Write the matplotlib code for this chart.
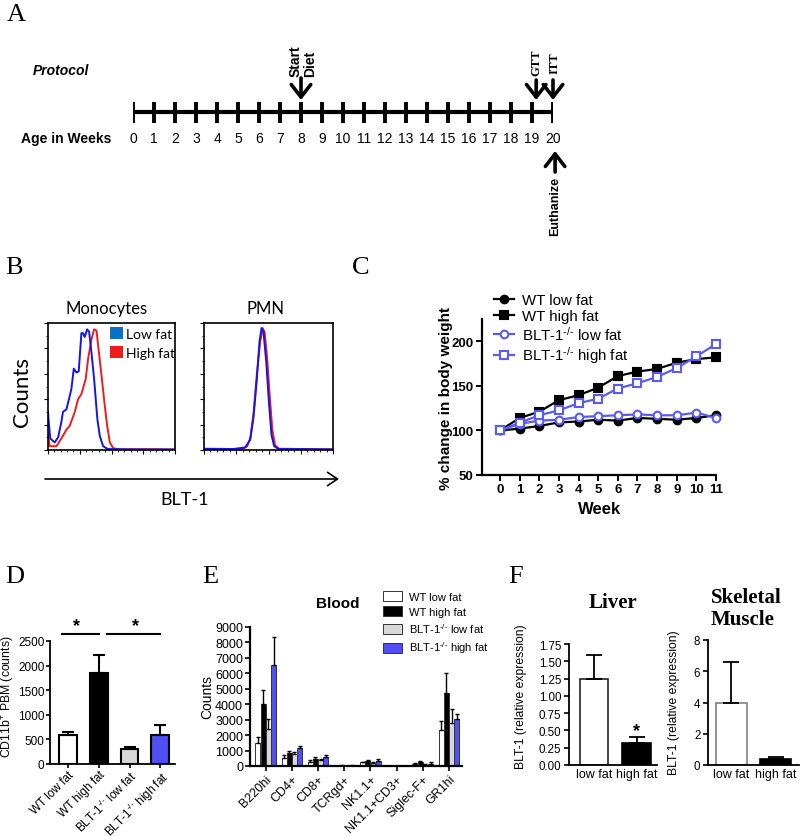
import matplotlib
matplotlib.use('Agg')
import matplotlib.pyplot as plt
from matplotlib.patches import Patch
from matplotlib.lines import Line2D
from matplotlib.ticker import FormatStrFormatter

SANS = 'Liberation Sans'
SERIF = 'Liberation Serif'
CAL = 'Lato'
plt.rcParams['font.family'] = [SANS, 'DejaVu Sans']
plt.rcParams['axes.linewidth'] = 1.3
plt.rcParams['mathtext.fontset'] = 'custom'
plt.rcParams['mathtext.rm'] = SANS
plt.rcParams['mathtext.it'] = SANS + ':italic'
plt.rcParams['mathtext.bf'] = SANS + ':bold'

KO = r'$^{\text{-/-}}$'

# ---------------- data ----------------
# Panel A: protocol timeline
weeks = list(range(21))
start_diet_week = 8
gtt_week = 19
itt_week = 20
euthanize_week = 20

# Panel B: flow histograms (x = fraction of BLT-1 axis, y = fraction of max counts)
mono_low_x = [0.000, 0.006, 0.018, 0.053, 0.080, 0.105, 0.118, 0.145, 0.165, 0.184, 0.203, 0.224, 0.242,
              0.263, 0.276, 0.289, 0.308, 0.324, 0.342, 0.363, 0.389, 0.408, 0.434, 0.470, 0.600, 1.000]
mono_low_y = [0.30, 0.22, 0.09, 0.06, 0.10, 0.22, 0.30, 0.32, 0.40, 0.48, 0.64, 0.61, 0.62,
              0.92, 0.92, 0.89, 0.95, 0.93, 0.77, 0.56, 0.24, 0.11, 0.03, 0.008, 0.005, 0.004]
mono_high_x = [0.000, 0.013, 0.066, 0.105, 0.145, 0.171, 0.211, 0.237, 0.263, 0.297, 0.316, 0.342,
               0.363, 0.382, 0.403, 0.421, 0.447, 0.466, 0.487, 0.513, 0.550, 0.840, 1.000]
mono_high_y = [0.13, 0.03, 0.03, 0.09, 0.16, 0.19, 0.30, 0.40, 0.44, 0.56, 0.72, 0.87,
               0.95, 0.94, 0.75, 0.59, 0.35, 0.19, 0.06, 0.015, 0.006, 0.006, 0.004]
pmn_low_x = [0.000, 0.228, 0.319, 0.358, 0.383, 0.409, 0.430, 0.446, 0.461, 0.482, 0.503, 0.523, 0.544, 0.578, 1.000]
pmn_low_y = [0.010, 0.008, 0.020, 0.080, 0.250, 0.550, 0.850, 0.960, 0.930, 0.700, 0.380, 0.120, 0.030, 0.008, 0.005]
pmn_high_x = [0.000, 0.300, 0.335, 0.360, 0.385, 0.410, 0.435, 0.455, 0.470, 0.490, 0.510, 0.530, 0.550, 0.580, 1.000]
pmn_high_y = [0.005, 0.008, 0.030, 0.100, 0.300, 0.600, 0.850, 0.960, 0.930, 0.720, 0.420, 0.160, 0.040, 0.010, 0.005]

# Panel C: body weight
c_weeks = list(range(12))
wt_low = [100, 102, 105, 109, 110, 112, 111, 114, 113, 112, 114, 117]
wt_low_err = [0, 1.5, 2, 2, 2, 2, 2, 2, 2, 2, 2, 2.5]
wt_high = [100, 114, 121, 134, 139.5, 148, 161, 166, 169, 176, 180, 182]
wt_high_err = [0, 2, 3, 3, 3, 3, 4, 4, 4, 4, 4, 4]
blt_low = [100, 107.5, 111, 112, 115, 116, 117, 118, 117, 117, 120, 114]
blt_low_err = [0, 2, 2, 2, 2, 2, 2, 2, 2, 2, 2, 2]
blt_high = [100, 108.6, 117, 122.6, 130.5, 135.7, 147, 153, 160, 170, 183, 197]
blt_high_err = [0, 2, 2, 3, 3, 3, 3, 3, 3, 3, 3, 4]

# Panel D
d_groups = ['WT low fat', 'WT high fat', 'BLT-1' + KO + ' low fat', 'BLT-1' + KO + ' high fat']
d_vals = [595, 1845, 304, 595]
d_err = [60, 371, 47, 202]

# Panel E
e_cats = ['B220hi', 'CD4+', 'CD8+', 'TCRgd+', 'NK1.1+', 'NK1.1+CD3+', 'Siglec-F+', 'GR1hi']
e_series = ['WT low fat', 'WT high fat', 'BLT-1' + KO + ' low fat', 'BLT-1' + KO + ' high fat']
e_wt_low = [1470, 540, 280, 20, 240, 10, 150, 2310]
e_wt_low_err = [430, 150, 110, 5, 40, 3, 30, 580]
e_wt_high = [4040, 820, 475, 30, 345, 15, 260, 4700]
e_wt_high_err = [880, 150, 105, 8, 65, 4, 65, 1320]
e_blt_low = [2370, 755, 390, 20, 215, 10, 90, 2760]
e_blt_low_err = [695, 175, 85, 5, 30, 3, 25, 910]
e_blt_high = [6540, 1190, 600, 30, 325, 15, 150, 3020]
e_blt_high_err = [1835, 105, 110, 8, 130, 4, 90, 330]

# Panel F
f_groups = ['low fat', 'high fat']
liver_vals = [1.247, 0.325]
liver_err = [0.34, 0.083]
muscle_vals = [4.0, 0.36]
muscle_err = [2.57, 0.15]

# ---------------- layout helpers ----------------
W, H = 800, 837
fig = plt.figure(figsize=(W / 100, H / 100), dpi=100)


def px_axes(l, t, r, b):
    return fig.add_axes([l / W, 1 - b / H, (r - l) / W, (b - t) / H])


ov = fig.add_axes([0, 0, 1, 1])
ov.set_xlim(0, W)
ov.set_ylim(H, 0)
ov.axis('off')

# panel letters
for lab, x, y in [('A', 7, 21), ('B', 5, 274), ('C', 352, 274), ('D', 5, 583), ('E', 202, 583), ('F', 508, 583)]:
    ov.text(x, y, lab, fontsize=19, family=SERIF, ha='left', va='baseline')

BLACK = 'black'
BLUE_C = '#5b5bef'
BLUE_BAR = '#4f4ff2'
GRAY_BAR = '#d8d8d8'

# ---------------- Panel A ----------------
axA = px_axes(133, 0, 553, 240)
axA.set_xlim(0, 20)
axA.set_ylim(240, 0)
axA.axis('off')
axA.plot([weeks[0], weeks[-1]], [113, 113], color=BLACK, lw=3, solid_capstyle='butt')
axA.vlines(weeks, 103, 124, color=BLACK, lw=2.8)
for w in weeks:
    axA.text(w, 139, str(w), ha='center', va='center', fontsize=10)
ov.text(21, 139, 'Age in Weeks', ha='left', va='center', fontsize=10, fontweight='bold')
ov.text(33, 71, 'Protocol', ha='left', va='center', fontsize=10, fontweight='bold', style='italic')

arr = dict(arrowstyle='->,head_length=0.45,head_width=0.35', lw=2.6, color=BLACK,
           mutation_scale=20, shrinkA=0, shrinkB=0)
axA.annotate('', xy=(start_diet_week, 101), xytext=(start_diet_week, 79), arrowprops=arr,
             annotation_clip=False)
axA.text(start_diet_week + 0.1, 77, 'Start\nDiet', rotation=90, ha='center', va='bottom',
         fontsize=10, fontweight='bold', multialignment='left', linespacing=1.05)
axA.annotate('', xy=(gtt_week + 0.2, 101), xytext=(gtt_week + 0.2, 81), arrowprops=arr,
             annotation_clip=False)
axA.annotate('', xy=(itt_week, 101), xytext=(itt_week, 81), arrowprops=arr, annotation_clip=False)
axA.text(gtt_week + 0.2, 76, 'GTT', rotation=90, ha='center', va='bottom', fontsize=9,
         family=SERIF, fontweight='bold')
axA.text(itt_week + 0.05, 74, 'ITT', rotation=90, ha='center', va='bottom', fontsize=9,
         family=SERIF, fontweight='bold')
axA.annotate('', xy=(euthanize_week + 0.1, 152), xytext=(euthanize_week + 0.1, 173), arrowprops=arr,
             annotation_clip=False)
axA.text(euthanize_week + 0.12, 177, 'Euthanize', rotation=90, ha='center', va='top', fontsize=9,
         fontweight='bold')

# ---------------- Panel B ----------------
def hist_axes(ax):
    ax.set_xlim(0, 1)
    ax.set_ylim(0, 1.0)
    ax.set_xticks([0, 0.25, 0.5, 0.75, 1.0])
    ax.set_xticks([i / 20 for i in range(21)], minor=True)
    ax.set_yticks([0, 0.2, 0.4, 0.6, 0.8, 1.0])
    ax.set_yticks([i / 10 for i in range(11)], minor=True)
    ax.tick_params(labelbottom=False, labelleft=False, length=3, width=0.8, direction='out')
    ax.tick_params(which='minor', length=1.5, width=0.6)
    for s in ax.spines.values():
        s.set_linewidth(1.2)


LOWB = '#1515e6'
HIGHR = '#ee1c1c'
axM = px_axes(48, 324, 175, 451)
hist_axes(axM)
axM.plot(mono_high_x, mono_high_y, color=HIGHR, lw=1.4)
axM.plot(mono_low_x, mono_low_y, color=LOWB, lw=1.4)
axM.legend(handles=[Patch(facecolor='#0a70c8', edgecolor='none', label='Low fat'),
                    Patch(facecolor=HIGHR, edgecolor='none', label='High fat')],
           loc='upper left', bbox_to_anchor=(0.49, 0.97), frameon=False,
           handlelength=0.9, handleheight=1.0, handletextpad=0.25, labelspacing=0.45,
           borderpad=0, borderaxespad=0, prop={'family': CAL, 'size': 10})
axP = px_axes(204, 324, 333, 451)
hist_axes(axP)
axP.plot(pmn_high_x, pmn_high_y, color=HIGHR, lw=1.4)
axP.plot(pmn_low_x, pmn_low_y, color=LOWB, lw=1.4)
ov.text(107, 309, 'Monocytes', ha='center', va='center', fontsize=12, family=CAL)
ov.text(265, 309, 'PMN', ha='center', va='center', fontsize=12, family=CAL)
ov.text(22, 392, 'Counts', ha='center', va='center', rotation=90, fontsize=16, family=CAL)
ov.annotate('', xy=(339, 480), xytext=(45, 480),
            arrowprops=dict(arrowstyle='->,head_length=0.6,head_width=0.4', lw=1.2, color=BLACK,
                            mutation_scale=12, shrinkA=0, shrinkB=0))
ov.text(185, 500, 'BLT-1', ha='center', va='center', fontsize=13, family=CAL)

# ---------------- Panel C ----------------
axC = px_axes(482, 320, 716, 476)
axC.set_xlim(-0.92, 11)
axC.set_ylim(50, 225)
for s in ['top', 'right']:
    axC.spines[s].set_visible(False)
axC.spines['left'].set_linewidth(1.6)
axC.spines['bottom'].set_linewidth(1.6)
axC.set_yticks([50, 100, 150, 200])
axC.set_xticks(c_weeks)
axC.tick_params(length=4, width=1.4, labelsize=9.5, pad=2)
for t in axC.get_xticklabels() + axC.get_yticklabels():
    t.set_fontweight('bold')
ekw = dict(capsize=2.5, elinewidth=1.2, capthick=1.2, clip_on=False, lw=1.6, ms=5.5)
c_series = [
    (wt_low, wt_low_err, BLACK, 'o', BLACK, 'WT low fat'),
    (wt_high, wt_high_err, BLACK, 's', BLACK, 'WT high fat'),
    (blt_low, blt_low_err, BLUE_C, 'o', 'white', 'BLT-1' + KO + ' low fat'),
    (blt_high, blt_high_err, BLUE_C, 's', 'white', 'BLT-1' + KO + ' high fat'),
]
handlesC = []
for vals, errs, col, mk, mfc, lab in c_series:
    art = axC.errorbar(c_weeks, vals, yerr=errs, color=col, marker=mk, mfc=mfc, mew=1.5, **ekw)
    for ch in art.get_children():
        ch.set_clip_on(False)
    handlesC.append(Line2D([], [], color=col, marker=mk, mfc=mfc, mew=1.5, lw=1.6, ms=5.5, label=lab))
axC.legend(handles=handlesC, loc='upper left', bbox_to_anchor=(494 / W, 1 - 294 / H),
           bbox_transform=fig.transFigure, frameon=False, fontsize=10.8, handlelength=1.3,
           handletextpad=0.6, labelspacing=0.12, borderpad=0, borderaxespad=0)
ov.text(446, 398, '% change in body weight', rotation=90, ha='center', va='center',
        fontsize=11, fontweight='bold')
ov.text(600, 509, 'Week', ha='center', va='center', fontsize=12, fontweight='bold')

# ---------------- Panel D ----------------
axD = px_axes(50, 642, 175, 765)
xD = list(range(len(d_groups)))
axD.bar(xD, d_vals, width=0.58, color=['white', 'black', GRAY_BAR, BLUE_BAR], edgecolor=BLACK, lw=1.5,
        yerr=[[0] * 4, d_err], error_kw=dict(ecolor=BLACK, elinewidth=1.5, capsize=4, capthick=1.5))
axD.set_xlim(-0.57, 3.47)
axD.set_ylim(0, 2500)
axD.set_yticks([0, 500, 1000, 1500, 2000, 2500])
axD.set_xticks(xD)
axD.set_xticklabels(d_groups, rotation=45, ha='right', rotation_mode='anchor', fontsize=7.2)
axD.tick_params(length=3, width=1.2, labelsize=8.5, pad=1)
axD.tick_params(axis='x', pad=0)
for s in ['top', 'right']:
    axD.spines[s].set_visible(False)
axD.plot([-0.18, 1.0], [2642, 2642], color=BLACK, lw=1.5, clip_on=False)
axD.plot([1.28, 2.98], [2642, 2642], color=BLACK, lw=1.5, clip_on=False)
axD.text(0.28, 2820, '*', ha='center', va='center', fontsize=13, fontweight='bold', clip_on=False)
axD.text(2.2, 2820, '*', ha='center', va='center', fontsize=13, fontweight='bold', clip_on=False)
ov.text(8, 697, 'CD11b$^{+}$ PBM (counts)', rotation=90, ha='center', va='center', fontsize=8.8)

# ---------------- Panel E ----------------
axE = px_axes(250, 628, 462, 767)
xE = list(range(len(e_cats)))
e_colors = ['white', 'black', GRAY_BAR, BLUE_BAR]
e_data = [(e_wt_low, e_wt_low_err), (e_wt_high, e_wt_high_err), (e_blt_low, e_blt_low_err),
          (e_blt_high, e_blt_high_err)]
offs = [-0.3, -0.1, 0.1, 0.3]
handlesE = []
for (vals, errs), col, off, lab in zip(e_data, e_colors, offs, e_series):
    axE.bar([x + off for x in xE], vals, width=0.19, color=col, edgecolor='#333333', lw=0.7,
            yerr=[[0] * len(vals), errs], error_kw=dict(ecolor=BLACK, elinewidth=1.0, capsize=1.5, capthick=1.0))
    handlesE.append(Patch(facecolor=col, edgecolor='#333333', lw=0.7, label=lab))
axE.set_xlim(-0.6, 7.5)
axE.set_ylim(0, 9000)
axE.set_yticks(range(0, 9001, 1000))
axE.set_xticks(xE)
axE.set_xticklabels(e_cats, rotation=45, ha='right', rotation_mode='anchor', fontsize=8.5)
axE.tick_params(length=3.5, width=1.2, labelsize=9, pad=1.5)
for s in ['top', 'right']:
    axE.spines[s].set_visible(False)
axE.spines['left'].set_linewidth(1.6)
axE.spines['bottom'].set_linewidth(1.6)
fig.legend(handles=handlesE, loc='upper left', bbox_to_anchor=(383 / W, 1 - 592 / H), frameon=False,
           fontsize=8, handlelength=1.7, handleheight=1.0, handletextpad=0.6, labelspacing=0.4,
           borderpad=0, borderaxespad=0)
ov.text(338, 604, 'Blood', ha='center', va='center', fontsize=11, fontweight='bold')
ov.text(207, 697, 'Counts', rotation=90, ha='center', va='center', fontsize=10)

# ---------------- Panel F ----------------
def f_axes(ax):
    for s in ['top', 'right']:
        ax.spines[s].set_visible(False)
    ax.tick_params(length=3.5, width=1.2, labelsize=8.3, pad=2)


axL = px_axes(569, 645, 657, 766)
xF = list(range(len(f_groups)))
axL.bar(xF, liver_vals, width=0.67, color=['white', 'black'], edgecolor=['#222222', BLACK], lw=1.2,
        yerr=[[0, 0], liver_err], error_kw=dict(ecolor=BLACK, elinewidth=1.3, capsize=6, capthick=1.3))
axL.set_xlim(-0.58, 1.47)
axL.set_ylim(0, 1.75)
axL.set_yticks([0, 0.25, 0.5, 0.75, 1.0, 1.25, 1.5, 1.75])
axL.yaxis.set_major_formatter(FormatStrFormatter('%.2f'))
axL.set_xticks(xF)
axL.set_xticklabels(f_groups)
f_axes(axL)
axL.tick_params(axis='x', length=0, labelsize=9)
axL.text(1, 0.5, '*', ha='center', va='center', fontsize=13, fontweight='bold')
ov.text(613, 603, 'Liver', ha='center', va='center', fontsize=15, family=SERIF, fontweight='bold')
ov.text(521, 697, 'BLT-1 (relative expression)', rotation=90, ha='center', va='center', fontsize=8.7)

axS = px_axes(708, 641, 799, 766)
axS.bar(xF, muscle_vals, width=0.7, color=['white', 'black'], edgecolor=['#808080', BLACK], lw=1.2,
        yerr=[[0, 0], muscle_err], error_kw=dict(ecolor=BLACK, elinewidth=1.3, capsize=6, capthick=1.3))
axS.set_xlim(-0.53, 1.53)
axS.set_ylim(0, 8)
axS.set_yticks([0, 2, 4, 6, 8])
axS.set_xticks(xF)
axS.set_xticklabels(f_groups)
f_axes(axS)
axS.tick_params(axis='x', length=0, labelsize=9)
ov.text(711, 609, 'Skeletal\nMuscle', ha='left', va='center', fontsize=15, family=SERIF,
        fontweight='bold', linespacing=1.1)
ov.text(674, 703, 'BLT-1 (relative expression)', rotation=90, ha='center', va='center', fontsize=8.7)

fig.savefig('out.png', dpi=100)
